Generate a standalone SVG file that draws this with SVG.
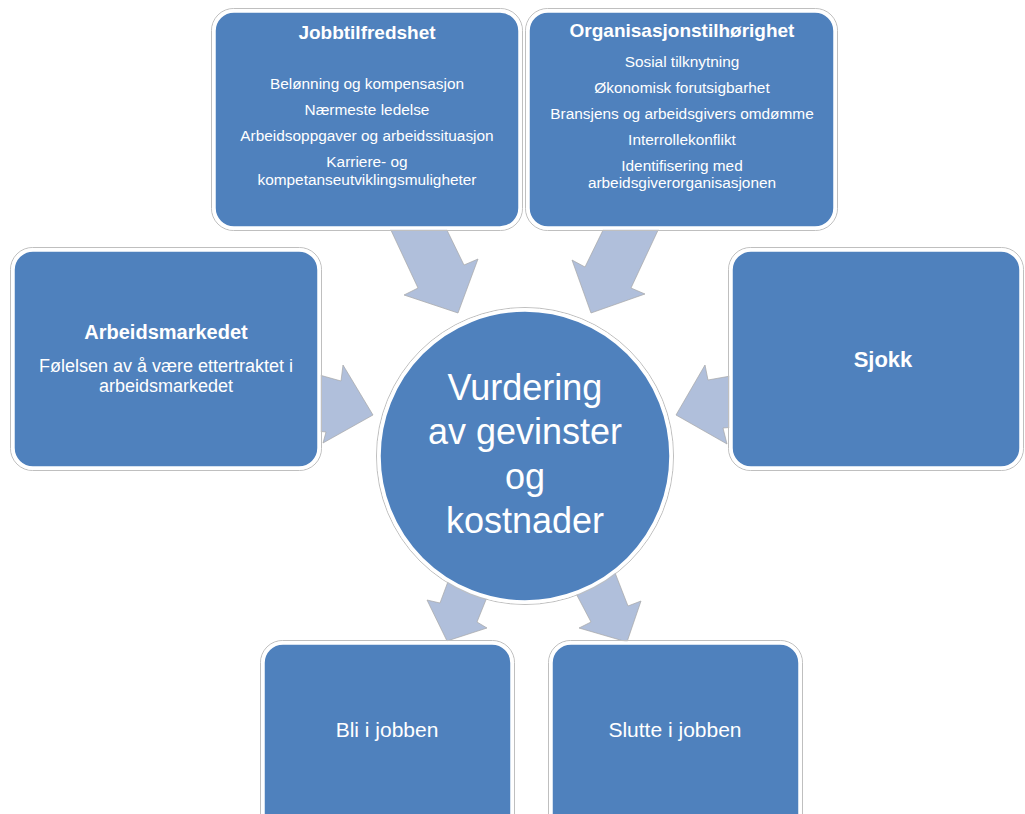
<svg xmlns="http://www.w3.org/2000/svg" width="1025" height="814" viewBox="0 0 1025 814">
<style>
.box{fill:#4F81BD;stroke:#FFFFFF;stroke-width:3.5}
.halo{fill:none;stroke:#BFBFBF;stroke-width:1}
.arr{fill:#B0BFDB;stroke:#A6A6A6;stroke-width:0.7;stroke-linejoin:miter}
text{font-family:"Liberation Sans",Arial,sans-serif;fill:#FFFFFF;text-anchor:middle}
.t{font-weight:bold;font-size:19px}
.b{font-size:15.4px}
.lb{font-size:18px}
.big{font-size:36px}
.out{font-size:21px}
</style>
<rect width="1025" height="814" fill="#FFFFFF"/>
<g id="connectors">
<polygon class="arr" points="389,226 445,226 464,265 478,259 458,313 404,295 418,288"/>
<polygon class="arr" points="605,226 660,226 631,288 645,294 591,313 572,260 585,267"/>
<polygon class="arr" points="316,374 341,381 343,365 373,415 323,443 326,432 316,431"/>
<polygon class="arr" points="736,375 708,380 705,365 676,415 727,444 723,428 736,427"/>
<polygon class="arr" points="456,560 440,603 427,600 447,641 487,628 477,622 498,570"/>
<polygon class="arr" points="561,565 591,622 579,628 627,642 641,601 628,606 612,565"/>
</g>
<g id="jobbtilfredshet">
<rect class="halo" x="211.5" y="8.5" width="311" height="222" rx="22"/>
<rect class="box" x="214" y="11" width="306" height="217" rx="20"/>
<text class="t" x="367" y="39">Jobbtilfredshet</text>
<text class="b" x="367" y="89">Belønning og kompensasjon</text>
<text class="b" x="367" y="115">Nærmeste ledelse</text>
<text class="b" x="367" y="141">Arbeidsoppgaver og arbeidssituasjon</text>
<text class="b" x="367" y="167">Karriere- og</text>
<text class="b" x="367" y="185">kompetanseutviklingsmuligheter</text>
</g>
<g id="organisasjonstilhorighet">
<rect class="halo" x="525.5" y="8.5" width="312" height="222" rx="22"/>
<rect class="box" x="528" y="11" width="307" height="217" rx="20"/>
<text class="t" x="682" y="37">Organisasjonstilhørighet</text>
<text class="b" x="682" y="67">Sosial tilknytning</text>
<text class="b" x="682" y="93">Økonomisk forutsigbarhet</text>
<text class="b" x="682" y="119">Bransjens og arbeidsgivers omdømme</text>
<text class="b" x="682" y="145">Interrollekonflikt</text>
<text class="b" x="682" y="171">Identifisering med</text>
<text class="b" x="682" y="188">arbeidsgiverorganisasjonen</text>
</g>
<g id="arbeidsmarkedet">
<rect class="halo" x="10.5" y="247.5" width="311" height="223" rx="22"/>
<rect class="box" x="13" y="250" width="306" height="218" rx="20"/>
<text class="t" x="166" y="339" style="font-size:20px">Arbeidsmarkedet</text>
<text class="lb" x="166" y="372">Følelsen av å være ettertraktet i</text>
<text class="lb" x="166" y="392">arbeidsmarkedet</text>
</g>
<g id="sjokk">
<rect class="halo" x="728.5" y="247.5" width="295" height="223" rx="22"/>
<rect class="box" x="731" y="250" width="290" height="218" rx="20"/>
<text class="t" x="883" y="367" style="font-size:22px">Sjokk</text>
</g>
<g id="vurdering">
<circle cx="525" cy="456" r="148.5" fill="none" stroke="#BFBFBF" stroke-width="1"/>
<circle cx="525" cy="456" r="146" fill="#4F81BD" stroke="#FFFFFF" stroke-width="3.5"/>
<text class="big" x="525" y="400">Vurdering</text>
<text class="big" x="525" y="444">av gevinster</text>
<text class="big" x="525" y="489">og</text>
<text class="big" x="525" y="533">kostnader</text>
</g>
<g id="bli">
<rect class="halo" x="260.5" y="640.5" width="254" height="210" rx="22"/>
<rect class="box" x="263" y="643" width="249" height="205" rx="20"/>
<text class="out" x="387" y="737">Bli i jobben</text>
</g>
<g id="slutte">
<rect class="halo" x="548.5" y="640.5" width="254" height="210" rx="22"/>
<rect class="box" x="551" y="643" width="249" height="205" rx="20"/>
<text class="out" x="675" y="737">Slutte i jobben</text>
</g>
</svg>
